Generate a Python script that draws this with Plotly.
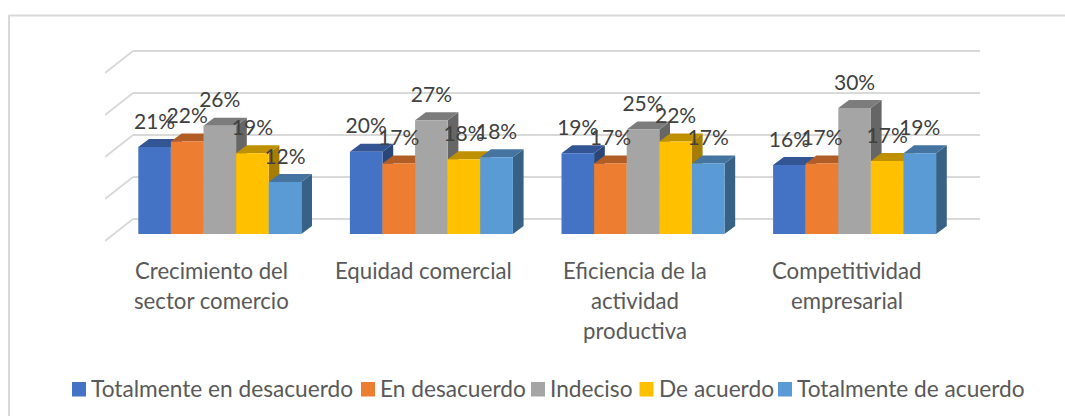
import plotly.graph_objects as go

# ---------- data ----------
CATEGORIES = ["Crecimiento del<br>sector comercio", "Equidad comercial",
              "Eficiencia de la<br>actividad<br>productiva", "Competitividad<br>empresarial"]
SERIES = ["Totalmente en desacuerdo", "En desacuerdo", "Indeciso", "De acuerdo", "Totalmente de acuerdo"]
TOT_DESAC = [20.7, 19.6, 19.2, 16.4]
DESAC = [22.0, 16.8, 16.8, 16.8]
INDECISO = [25.8, 27.1, 24.9, 30.0]
ACUERDO = [19.2, 17.8, 22.0, 17.4]
TOT_ACUERDO = [12.4, 18.3, 16.8, 19.2]
GRID_VALUES = [0, 10, 20, 30, 40]

VALUES = [TOT_DESAC, DESAC, INDECISO, ACUERDO, TOT_ACUERDO]

# ---------- style ----------
FRONT = ["#4472C4", "#ED7D31", "#A5A5A5", "#FFC000", "#5B9BD5"]
TOP = ["#335593", "#B25D25", "#7C7C7C", "#BF9000", "#44749F"]
SIDE = ["#2A4679", "#8F4A1C", "#666666", "#A67D00", "#386285"]
GRID = "#D9D9D9"
FONT = "Lato"

W, H = 1065, 416
L, R, T, B = 105, 980, 30, 245     # plot area in pixels
PX_X = 211.6                       # pixels per category
PX_Y = 4.2                         # pixels per percent
X0, Y0 = 219.8, 234                # first group centre, bar baseline

x_range = [(L - X0) / PX_X, (R - X0) / PX_X]
y_range = [(Y0 - B) / PX_Y, (Y0 - T) / PX_Y]

BAR_W = 32.6 / PX_X
DEPTH_X, DEPTH_Y = 10.7 / PX_X, 8 / PX_Y          # bar depth
WALL_X = 28 / PX_X                                # side wall width
WALL_FRONT, WALL_BACK = -7 / PX_Y, 15 / PX_Y      # floor offsets


def px(x):
    return (x - L) / (R - L)


def py(y):
    return (B - y) / (B - T)


def poly(pts):
    return "M " + " L ".join(f"{a},{b}" for a, b in pts) + " Z"


fig = go.Figure()
shapes = []

# walls / gridlines
for v in GRID_VALUES:
    shapes.append(dict(type="line", xref="x", yref="y", layer="below",
                       x0=x_range[0], y0=v + WALL_FRONT, x1=x_range[0] + WALL_X, y1=v + WALL_BACK,
                       line=dict(color=GRID, width=2)))
    shapes.append(dict(type="line", xref="x", yref="y", layer="below",
                       x0=x_range[0] + WALL_X, y0=v + WALL_BACK, x1=x_range[1], y1=v + WALL_BACK,
                       line=dict(color=GRID, width=2)))

positions = list(range(len(CATEGORIES)))

# depth faces, left to right so that later bars cover earlier sides
for c in positions:
    for i, vals in enumerate(VALUES):
        v = vals[c]
        x1 = c + (i - 2) * BAR_W - BAR_W / 2
        x2 = x1 + BAR_W
        shapes.append(dict(type="path", xref="x", yref="y", layer="below", line_width=0, fillcolor=SIDE[i],
                           path=poly([(x2, 0), (x2 + DEPTH_X, DEPTH_Y), (x2 + DEPTH_X, v + DEPTH_Y), (x2, v)])))
        shapes.append(dict(type="path", xref="x", yref="y", layer="below", line_width=0, fillcolor=TOP[i],
                           path=poly([(x1, v), (x1 + DEPTH_X, v + DEPTH_Y), (x2 + DEPTH_X, v + DEPTH_Y), (x2, v)])))

# front faces
for i, vals in enumerate(VALUES):
    fig.add_trace(go.Bar(x=positions, y=vals, name=SERIES[i], marker=dict(color=FRONT[i], line_width=0),
                         width=BAR_W, offset=(i - 2) * BAR_W - BAR_W / 2, showlegend=False))

# data labels sit a fixed distance above each front face
for i, vals in enumerate(VALUES):
    fig.add_trace(go.Scatter(x=[c + (i - 2) * BAR_W for c in positions], y=[v + 23.5 / PX_Y for v in vals],
                             mode="text", text=[f"{v:.0f}%" for v in vals], textposition="middle center",
                             textfont=dict(family=FONT, size=21, color="#404040"),
                             showlegend=False, hoverinfo="skip"))

annotations = []

# category labels, one annotation per line (30 px leading)
for c, label in enumerate(CATEGORIES):
    for n, line in enumerate(label.split("<br>")):
        annotations.append(dict(xref="x", yref="paper", x=c, y=py(270.5 + 30 * n), xshift=-8,
                                text=line, showarrow=False, xanchor="center", yanchor="middle",
                                font=dict(family=FONT, size=22.2, color="#595959")))

# legend drawn by hand: swatch sits tight against the text
LEGEND_X = [72, 361, 531, 639.5, 778]
for name, color, lx in zip(SERIES, FRONT, LEGEND_X):
    shapes.append(dict(type="rect", xref="paper", yref="paper", line_width=0, fillcolor=color,
                       x0=px(lx), x1=px(lx + 14), y0=py(396.5), y1=py(382)))
    annotations.append(dict(xref="paper", yref="paper", x=px(lx + 19), y=py(388), text=name, showarrow=False,
                            xanchor="left", yanchor="middle", xshift=-2,
                            font=dict(family=FONT, size=22.7, color="#595959")))

# chart frame (top and left edges are what the picture shows)
shapes.append(dict(type="line", xref="paper", yref="paper", x0=px(9), x1=px(W), y0=py(15.5), y1=py(15.5),
                   line=dict(color=GRID, width=2)))
shapes.append(dict(type="line", xref="paper", yref="paper", x0=px(9), x1=px(9), y0=py(15), y1=py(H),
                   line=dict(color=GRID, width=2)))

fig.update_layout(
    width=W, height=H, barmode="overlay", showlegend=False,
    margin=dict(l=L, r=W - R, t=T, b=H - B, autoexpand=False),
    paper_bgcolor="white", plot_bgcolor="rgba(0,0,0,0)",
    xaxis=dict(visible=False, range=x_range, fixedrange=True),
    yaxis=dict(visible=False, range=y_range, fixedrange=True),
    shapes=shapes, annotations=annotations,
)

# the page's default body margin would shift everything by 8 px
fig.write_html("out.html", config=dict(displayModeBar=False),
               post_script="document.body.style.margin='0';")
